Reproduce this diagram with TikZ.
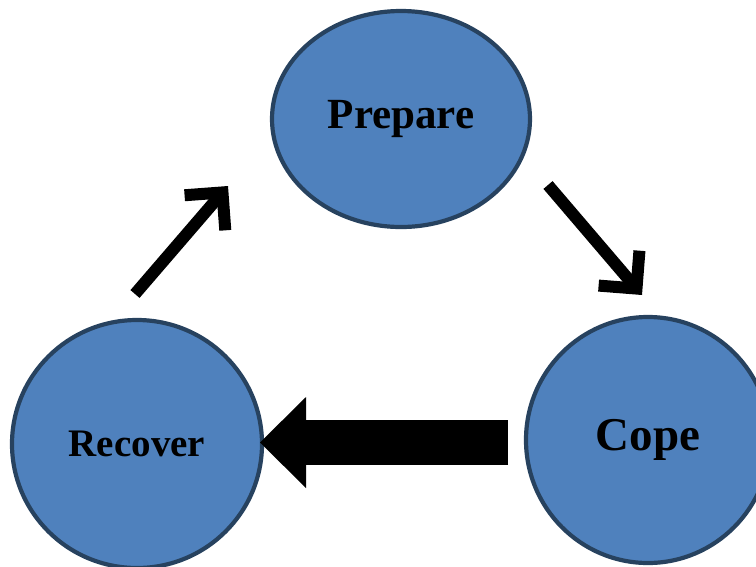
\documentclass[tikz,border=0pt]{standalone}
\usepackage{fontspec}
\setmainfont{Liberation Serif}
\usetikzlibrary{shapes.geometric,arrows.meta}
\definecolor{fillblue}{HTML}{4F81BD}
\definecolor{edgeblue}{HTML}{27425F}
\begin{document}
\begin{tikzpicture}[x=1pt,y=-1pt,
  stage/.style={ellipse, draw=edgeblue, fill=fillblue, line width=4.2pt, inner sep=0pt},
  barbarrow/.style={line width=12pt, line cap=butt, -{Straight Barb[angle=90:38pt, line join=miter]}},
  blockarrow/.style={line width=45pt, -{Triangle[length=46pt, width=91pt, line width=0pt]}}]
\useasboundingbox (0,0) rectangle (756,566);
\node[stage, minimum width=258pt, minimum height=216pt, font=\bfseries\fontsize{43}{50}\selectfont] (prep) at (401,119) {Prepare};
\node[stage, minimum width=244pt, minimum height=246pt, font=\bfseries\fontsize{47}{56}\selectfont] (cope) at (648,440) {Cope};
\node[stage, minimum width=250pt, minimum height=248pt, font=\bfseries\fontsize{39}{47}\selectfont] (rec) at (137,444) {Recover};
\coordinate (a1s) at (135,294);
\coordinate (a1e) at (228,186);
\coordinate (a2s) at (548,185);
\coordinate (a2e) at (642,295);
\coordinate (bs) at (508,442.5);
\coordinate (be) at (260,442.5);
\draw[barbarrow] (a1s) -- (a1e);
\draw[barbarrow] (a2s) -- (a2e);
\draw[blockarrow] (bs) -- (be);
\end{tikzpicture}
\end{document}
